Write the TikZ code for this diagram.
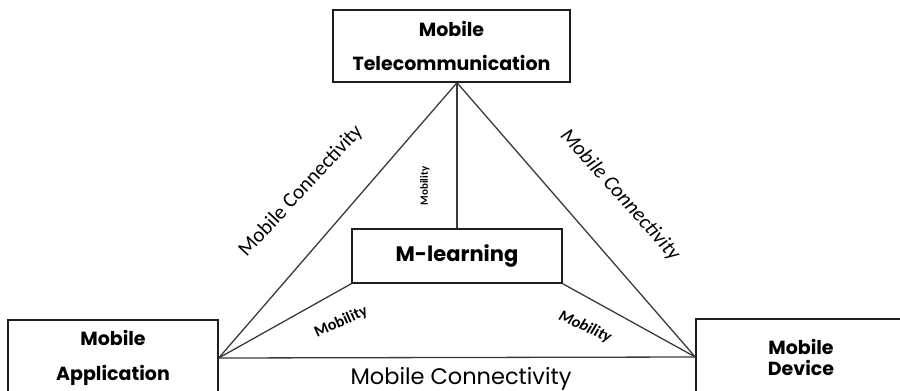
\documentclass[tikz,border=0pt]{standalone}
\usepackage{fontspec}
\setmainfont{Carlito}
\newfontfamily\boxfont{Poppins}
\usetikzlibrary{positioning, calc}
\definecolor{cline}{HTML}{3A3A3A}
\definecolor{cbox}{HTML}{1E1E1E}
\tikzset{
  every picture/.style={line width=1.2pt},
  box/.style={draw=cbox, line width=1.4pt, fill=white, align=center, inner sep=0pt, font=\boxfont\fontsize{19}{34}\selectfont\bfseries},
  link/.style={draw=cline, line width=1.3pt},
  conn/.style={font=\fontsize{21}{24}\selectfont},
  mob/.style={font=\fontsize{16}{18}\selectfont\bfseries},
}
\begin{document}
\begin{tikzpicture}[x=1pt, y=-1pt]
  \useasboundingbox (0,0) rectangle (900,391);
  % boxes
  \node[box, minimum width=237pt, minimum height=72pt] (tele) at (451.5,46) {Mobile\\Telecommunication};
  \node[box, minimum width=210pt, minimum height=76pt, font=\boxfont\fontsize{19}{35}\selectfont\bfseries] (app) at (113,358) {Mobile\\Application};
  \node[box, minimum width=210pt, minimum height=76pt, font=\boxfont\fontsize{19}{21}\selectfont\bfseries] (dev) at (801,357) {Mobile\\Device};
  \node[box, minimum width=210pt, minimum height=54pt, font=\boxfont\fontsize{21}{24}\selectfont\bfseries] (learn) at (457,256) {M-learning};
  \coordinate (apex) at ($(tele.south)+(5.5,0)$);
  % connectors
  \draw[link] (apex) -- (app.east);
  \draw[link] (apex) -- (dev.west);
  \draw[link] (apex) -- (learn.north);
  \draw[link] (learn.south west) -- (app.east);
  \draw[link] (learn.south east) -- (dev.west);
  \draw[link] (app.east) -- (dev.west);
  % labels
  \node[conn, rotate=47] (lconn) at (301,191) {Mobile Connectivity};
  \node[conn, rotate=-48] (rconn) at (620,195) {\itshape Mobile Connectivity};
  \node[font=\boxfont\fontsize{22.5}{24}\selectfont] (bconn) at (461,379) {Mobile Connectivity};
  \node[rotate=90, font=\fontsize{11}{12}\selectfont\bfseries] (vmob) at (425,186) {Mobility};
  \node[mob, rotate=24] (lmob) at (341,322) {Mobility};
  \node[mob, rotate=-24] (rmob) at (585,327) {\itshape Mobility};
\end{tikzpicture}
\end{document}
